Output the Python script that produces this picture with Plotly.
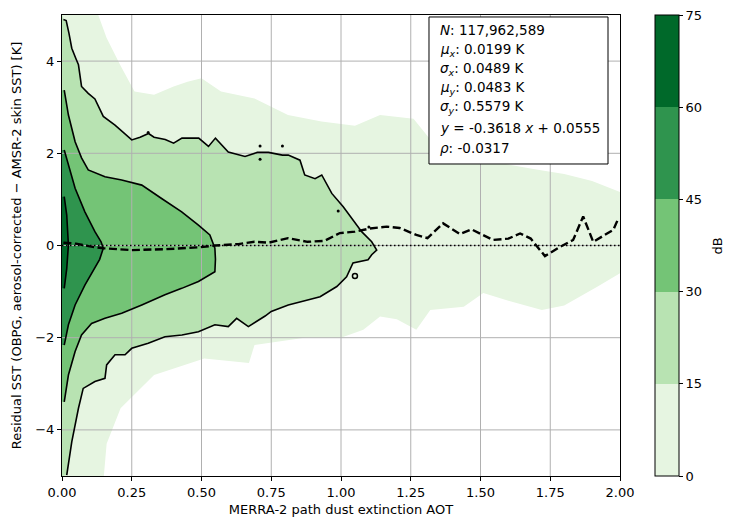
import plotly.graph_objects as go

# ---------------- data ----------------
level_colors = ["#e6f5e1", "#b8e3b2", "#74c476", "#2f944e", "#00692a"]
level_bounds = [0, 15, 30, 45, 60, 75]
colorbar_title = "dB"

# outer envelope of the 0-15 dB region (upper branch left->right, then lower right->left)
env_x = [0.0, 0.13, 0.16, 0.21, 0.26, 0.33, 0.40, 0.45, 0.50, 0.57, 0.69, 0.81, 0.93, 1.05, 1.14, 1.26, 1.32,
         1.40, 1.56, 1.70, 1.80, 1.90, 2.0,
         2.0, 1.92, 1.80, 1.72, 1.60, 1.51, 1.44, 1.32, 1.27, 1.20, 1.14, 1.08, 1.0, 0.87, 0.69, 0.67, 0.51,
         0.33, 0.21, 0.16, 0.15, 0.0]
env_y = [5.0, 5.0, 4.5, 3.9, 3.34, 3.27, 3.45, 3.55, 3.63, 3.34, 3.19, 2.83, 2.69, 2.6, 2.83, 2.75, 2.3,
         1.85, 1.8, 1.65, 1.55, 1.4, 1.16,
         -0.6, -0.89, -1.3, -1.4, -1.2, -1.03, -1.33, -1.4, -1.83, -1.6, -1.54, -1.83, -2.0, -2.0, -2.16, -2.55, -2.45,
         -2.81, -3.53, -4.3, -5.0, -5.0]

# contour at 15 dB
c15_x = [0.005, 0.015, 0.025, 0.035, 0.05, 0.059, 0.07, 0.094, 0.118, 0.148, 0.19, 0.25, 0.28, 0.31, 0.33, 0.37,
         0.40, 0.43, 0.49, 0.525, 0.55, 0.596, 0.656, 0.70, 0.74, 0.79, 0.811, 0.853, 0.87, 0.907, 0.931, 0.967,
         1.008, 1.05, 1.074, 1.11, 1.128, 1.11, 1.097, 1.043, 1.02, 0.985, 0.925, 0.87, 0.811, 0.75, 0.728, 0.668,
         0.626, 0.596, 0.548, 0.489, 0.43, 0.369, 0.309, 0.25, 0.226, 0.19, 0.16, 0.154, 0.118, 0.076, 0.059,
         0.035, 0.017]
c15_y = [4.90, 4.88, 4.6, 4.28, 4.05, 3.92, 3.45, 3.30, 3.18, 2.80, 2.61, 2.29, 2.35, 2.43, 2.35, 2.30,
         2.22, 2.33, 2.33, 2.15, 2.33, 2.03, 1.93, 2.02, 2.02, 1.96, 1.96, 1.85, 1.53, 1.45, 1.53, 1.13,
         0.84, 0.49, 0.30, 0.08, -0.10, -0.20, -0.31, -0.38, -0.68, -0.89, -1.11, -1.2, -1.29, -1.43, -1.53, -1.76,
         -1.58, -1.76, -1.72, -1.87, -1.94, -1.98, -2.12, -2.23, -2.37, -2.37, -2.59, -2.88, -2.95, -3.10, -3.53,
         -4.26, -4.98]

# small isolated 15 dB islands
isl_x = [0.309, 0.71, 0.71, 0.79, 0.99, 1.10]
isl_y = [2.45, 2.16, 1.87, 2.16, 0.75, 0.40]
ring_x = [1.05]
ring_y = [-0.66]

# contour at 30 dB
c30_x = [0.008, 0.023, 0.047, 0.07, 0.094, 0.154, 0.214, 0.286, 0.357, 0.429, 0.489, 0.53, 0.548, 0.55, 0.548,
         0.489, 0.429, 0.369, 0.286, 0.214, 0.154, 0.106, 0.07, 0.047, 0.023, 0.008]
c30_y = [3.37, 2.83, 2.25, 1.9, 1.64, 1.49, 1.42, 1.31, 1.02, 0.73, 0.44, 0.23, -0.06, -0.3, -0.57,
         -0.78, -0.93, -1.07, -1.29, -1.47, -1.58, -1.69, -1.94, -2.30, -2.81, -3.39]

# contour at 45 dB
c45_x = [0.008, 0.023, 0.047, 0.082, 0.118, 0.14, 0.148, 0.135, 0.118, 0.082, 0.047, 0.023, 0.008]
c45_y = [2.07, 1.75, 1.24, 0.73, 0.30, 0.08, -0.06, -0.3, -0.49, -0.86, -1.29, -1.72, -2.16]

# contour at 60 dB
c60_x = [0.008, 0.017, 0.023, 0.017, 0.008]
c60_y = [1.06, 0.66, 0.01, -0.50, -0.93]

# conditional mean (dashed)
mean_x = [0.005, 0.05, 0.10, 0.148, 0.25, 0.37, 0.49, 0.55, 0.632, 0.69, 0.74, 0.81, 0.88, 0.94, 0.996, 1.05,
          1.104, 1.164, 1.21, 1.27, 1.31, 1.366, 1.426, 1.468, 1.545, 1.6, 1.642, 1.68, 1.731, 1.785, 1.832,
          1.868, 1.904, 1.976, 1.995]
mean_y = [0.06, 0.04, -0.02, -0.06, -0.10, -0.08, -0.04, 0.0, 0.03, 0.08, 0.06, 0.16, 0.08, 0.10, 0.27, 0.30,
          0.37, 0.41, 0.38, 0.23, 0.16, 0.48, 0.25, 0.35, 0.12, 0.15, 0.26, 0.15, -0.23, -0.03, 0.12,
          0.63, 0.08, 0.34, 0.60]

x_ticks = [0.0, 0.25, 0.5, 0.75, 1.0, 1.25, 1.5, 1.75, 2.0]
x_tick_labels = ["0.00", "0.25", "0.50", "0.75", "1.00", "1.25", "1.50", "1.75", "2.00"]
y_ticks = [-4, -2, 0, 2, 4]
x_range = [0.0, 2.0]
y_range = [-5.0, 5.0]

stats_lines = [
    "<i>N</i>: 117,962,589",
    "<i>μ<sub>x</sub></i>: 0.0199 K",
    "<i>σ<sub>x</sub></i>: 0.0489 K",
    "<i>μ<sub>y</sub></i>: 0.0483 K",
    "<i>σ<sub>y</sub></i>: 0.5579 K",
    "<i>y</i> = -0.3618 <i>x</i> + 0.0555",
    "<i>ρ</i>: -0.0317",
]

FONT = "DejaVu Sans"
fig = go.Figure()

# filled regions (outer to inner)
fig.add_trace(go.Scatter(x=env_x, y=env_y, fill="toself", fillcolor=level_colors[0], mode="none",
                         hoverinfo="skip", showlegend=False))
for idx, (cx, cy, col) in enumerate([(c15_x, c15_y, level_colors[1]), (c30_x, c30_y, level_colors[2]),
                                     (c45_x, c45_y, level_colors[3]), (c60_x, c60_y, level_colors[4])]):
    if idx == 0:
        py = [y_range[1]] + cy + [y_range[0]]
    else:
        py = [cy[0]] + cy + [cy[-1]]
    px = [x_range[0]] + cx + [x_range[0]]
    fig.add_trace(go.Scatter(x=px, y=py, fill="toself", fillcolor=col, mode="none",
                             hoverinfo="skip", showlegend=False))

# grid lines (above fills, below lines like matplotlib)
gx, gy = [], []
for v in x_ticks[1:-1]:
    gx += [v, v, None]
    gy += [y_range[0], y_range[1], None]
for v in y_ticks:
    gx += [x_range[0], x_range[1], None]
    gy += [v, v, None]
fig.add_trace(go.Scatter(x=gx, y=gy, mode="lines", line=dict(color="#b0b0b0", width=1),
                         hoverinfo="skip", showlegend=False))

# contour lines
for cx, cy in [(c15_x, c15_y), (c30_x, c30_y), (c45_x, c45_y), (c60_x, c60_y)]:
    fig.add_trace(go.Scatter(x=cx, y=cy, mode="lines", line=dict(color="black", width=1.6),
                             hoverinfo="skip", showlegend=False))
fig.add_trace(go.Scatter(x=isl_x, y=isl_y, mode="markers", marker=dict(color="black", size=3),
                         hoverinfo="skip", showlegend=False))
fig.add_trace(go.Scatter(x=ring_x, y=ring_y, mode="markers",
                         marker=dict(symbol="circle-open", color="black", size=5, line=dict(width=1.5)),
                         hoverinfo="skip", showlegend=False))

# zero reference line
fig.add_trace(go.Scatter(x=x_range, y=[0, 0], mode="lines",
                         line=dict(color="black", width=1.5, dash="1.5px,2.5px"),
                         hoverinfo="skip", showlegend=False))
# conditional mean
fig.add_trace(go.Scatter(x=mean_x, y=mean_y, mode="lines",
                         line=dict(color="black", width=2.4, dash="8px,3.5px"),
                         hoverinfo="skip", showlegend=False))

# colorbar
cs = []
n = len(level_colors)
for i, c in enumerate(level_colors):
    cs.append([i / n, c])
    cs.append([(i + 1) / n, c])
fig.add_trace(go.Scatter(
    x=[-10], y=[-10], mode="markers", hoverinfo="skip", showlegend=False,
    marker=dict(color=[0], cmin=level_bounds[0], cmax=level_bounds[-1], colorscale=cs, showscale=True, size=1,
                colorbar=dict(x=1.0627, xanchor="left", y=0.5, yanchor="middle", len=1.0, lenmode="fraction",
                              thickness=24, outlinecolor="black", outlinewidth=1,
                              tickvals=level_bounds, ticks="outside", ticklen=4, tickcolor="black",
                              tickfont=dict(family=FONT, size=13, color="black"),
                              xpad=0, ypad=0))))
fig.add_annotation(xref="paper", yref="paper", x=1.1756, y=0.5, xanchor="center", yanchor="middle",
                   text=colorbar_title, textangle=-90, showarrow=False,
                   font=dict(family=FONT, size=13, color="black"))

# stats box
fig.add_shape(type="rect", xref="paper", yref="paper", x0=0.6577, x1=0.9785, y0=0.6768, y1=0.9957,
              line=dict(color="black", width=1), fillcolor="white", layer="above")
line_y = [0.9675, 0.9241, 0.8829, 0.8416, 0.8004, 0.7549, 0.7115]
for txt, yy in zip(stats_lines, line_y):
    fig.add_annotation(xref="paper", yref="paper", x=0.6738, y=yy, xanchor="left", yanchor="middle",
                       text=txt, showarrow=False, align="left",
                       font=dict(family=FONT, size=13.5, color="black"))

axis_common = dict(showgrid=False, zeroline=False, showline=True, linecolor="black", linewidth=1,
                   mirror=True, ticks="outside", ticklen=4, tickcolor="black",
                   tickfont=dict(family=FONT, size=13, color="black"))
fig.update_layout(
    width=734, height=530,
    margin=dict(l=62, r=114, t=15, b=54, autoexpand=False),
    plot_bgcolor="white", paper_bgcolor="white",
    font=dict(family=FONT, size=13, color="black"),
    xaxis=dict(range=x_range, tickvals=x_ticks, ticktext=x_tick_labels,
               title=dict(text="MERRA-2 path dust extinction AOT", font=dict(family=FONT, size=13), standoff=6),
               **axis_common),
    yaxis=dict(range=y_range, tickvals=y_ticks,
               title=dict(text="Residual SST (OBPG, aerosol-corrected − AMSR-2 skin SST) [K]",
                          font=dict(family=FONT, size=13), standoff=10),
               **axis_common),
)

fig.write_html("out.html", config={"displayModeBar": False},
               post_script="document.body.style.margin='0';document.body.style.padding='0';")
